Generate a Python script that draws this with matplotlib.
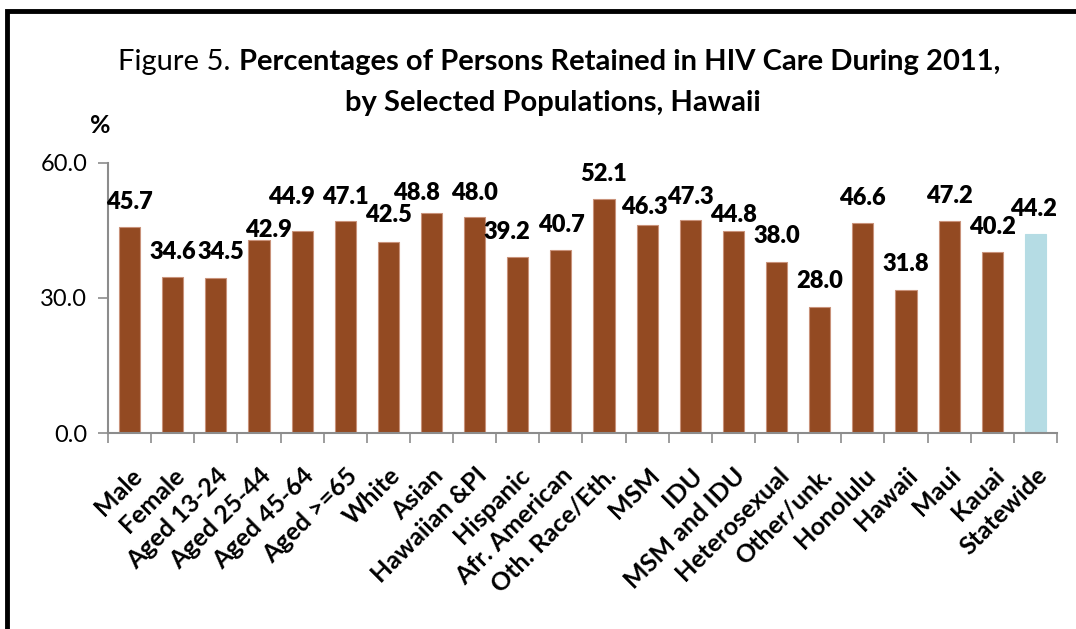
import numpy as np
import matplotlib.pyplot as plt
from matplotlib.patches import Rectangle

plt.rcParams['font.family'] = ['Lato', 'DejaVu Sans']

categories = ['Male', 'Female', 'Aged 13-24', 'Aged 25-44', 'Aged 45-64', 'Aged >=65',
              'White', 'Asian', 'Hawaiian &PI', 'Hispanic', 'Afr. American',
              'Oth. Race/Eth.', 'MSM', 'IDU', 'MSM and IDU', 'Heterosexual',
              'Other/unk.', 'Honolulu', 'Hawaii', 'Maui', 'Kauai', 'Statewide']
values = [45.7, 34.6, 34.5, 42.9, 44.9, 47.1, 42.5, 48.8, 48.0, 39.2, 40.7,
          52.1, 46.3, 47.3, 44.8, 38.0, 28.0, 46.6, 31.8, 47.2, 40.2, 44.2]

# label nudges (x in bar slots, y in %), as Excel placed them
lab_dx = [0, 0, 0.12, 0.23, -0.25, 0, 0, -0.35, 0, -0.25, 0,
          0, -0.07, 0, 0, 0, 0, 0, 0, 0, 0, -0.04]
lab_dy = [5.6, 5.6, 5.7, 2.2, 7.5, 5.3, 5.9, 4.5, 5.3, 5.5, 5.5,
          5.5, 3.9, 5.1, 3.6, 5.8, 5.8, 5.6, 5.8, 5.5, 5.6, 5.6]

brown = '#934A22'
blue = '#B5DCE4'
colors = [brown] * (len(values) - 1) + [blue]

fig = plt.figure(figsize=(10.76, 6.29), dpi=100)
ax = fig.add_axes([0.1004, 0.3116, 0.8819, 0.4293])

x = np.arange(len(categories))
ax.bar(x, values, width=0.49, color=colors, edgecolor=['#C9927A'] * (len(values) - 1) + [blue],
       linewidth=0.8)

for i, v in enumerate(values):
    ax.text(i + lab_dx[i], v + lab_dy[i], f'{v:.1f}', ha='center', va='center',
            fontsize=17, fontweight='heavy')

ax.set_xlim(-0.5, len(categories) - 0.5)
ax.set_ylim(0, 60)
ax.set_yticks([0, 30, 60])
ax.set_yticklabels(['0.0', '30.0', '60.0'], fontsize=17)

ax.set_xticks(x)
ax.set_xticklabels(categories, rotation=45, ha='right', rotation_mode='anchor',
                   fontsize=18, fontweight='bold')
ax.tick_params(axis='x', length=0, pad=22)
ax.set_xticks(np.arange(-0.5, len(categories), 1), minor=True)
ax.tick_params(axis='x', which='minor', length=7, color='#8C8C8C', width=1.2)
ax.tick_params(axis='y', length=7, color='#8C8C8C', width=1.2, pad=8)

for s in ['top', 'right']:
    ax.spines[s].set_visible(False)
for s in ['left', 'bottom']:
    ax.spines[s].set_color('#8C8C8C')
    ax.spines[s].set_linewidth(1.5)

fig.text(0.214, 0.901, 'Figure 5.', ha='right', va='center', fontsize=21)
fig.text(0.222, 0.901, 'Percentages of Persons Retained in HIV Care During 2011,',
         ha='left', va='center', fontsize=21, fontweight='bold')
fig.text(0.514, 0.836, 'by Selected Populations, Hawaii', ha='center', va='center',
         fontsize=21, fontweight='bold')
fig.text(0.093, 0.800, '%', ha='center', va='center', fontsize=18, fontweight='bold')

fig.patches.append(Rectangle((7 / 1076, -0.1), 1.2, 1.1 - 11 / 629, transform=fig.transFigure,
                             fill=False, edgecolor='black', linewidth=3.5))

fig.savefig('out.png', dpi=100)
